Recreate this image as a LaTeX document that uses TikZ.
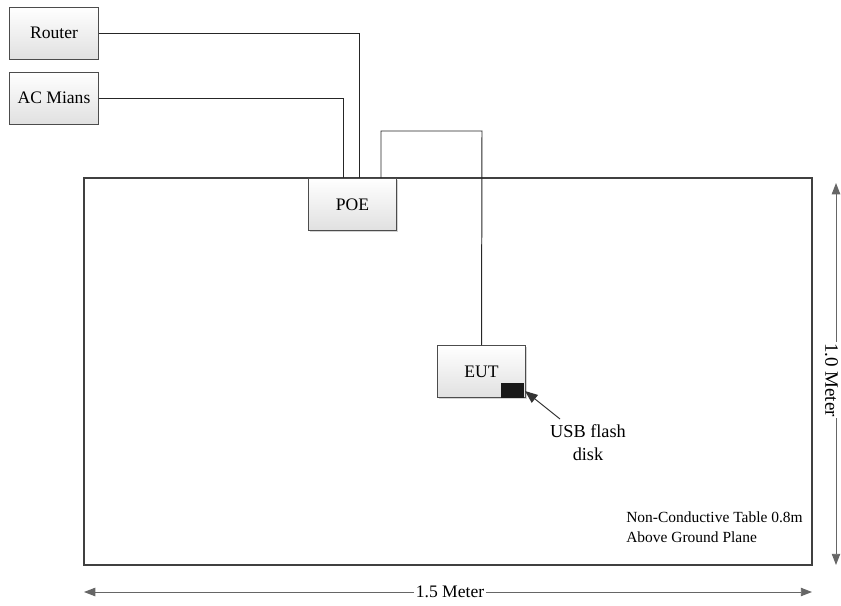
\documentclass[tikz,border=0pt]{standalone}
\usepackage{fontspec}
\setmainfont{Liberation Serif}
\usetikzlibrary{arrows.meta,shadows}

\tikzset{
  unit/.style={draw=black!70, line width=0.7pt, top color=white, bottom color=black!12,
    drop shadow={shadow xshift=1pt, shadow yshift=-1pt, opacity=0.35},
    minimum width=2.2cm, minimum height=1.3cm, inner sep=0pt, font=\fontsize{12.5}{15}\selectfont},
  cable/.style={black!85, line width=0.7pt},
  dim/.style={black!60, line width=0.7pt, >={Triangle[length=8pt,width=6pt]}},
}

\begin{document}
\begin{tikzpicture}[x=0.025cm, y=-0.025cm]
  \useasboundingbox (0,0) rectangle (841,605);
  % ------- the table -------
  \draw[black!75, line width=1.3pt] (84,178) rectangle (812,565);
  \node[anchor=north west, align=left, inner sep=0pt, font=\fontsize{11}{14.8}\selectfont] (note) at (626,511)
    {Non-Conductive Table 0.8m\\Above Ground Plane};
  % ------- boxes -------
  \node[unit] (router) at (54,33) {Router};
  \node[unit] (mains) at (54,98) {AC Mians};
  \node[unit] (poe) at (352.5,204.5) {POE};
  \node[unit] (eut) at (481.5,371.5) {EUT};
  \fill[black!90] (501,383) rectangle (524,398);
  \coordinate (usb) at (525,391);
  % ------- cables -------
  \draw[cable] (router.east) -| (359,178);
  \draw[cable] (mains.east) -| (343,178);
  \draw[cable] (381,178) |- (482,131) -- (eut.north);
  % ------- USB label -------
  \node[align=center, inner sep=0pt, font=\fontsize{13}{16.3}\selectfont] (usbtxt) at (588,443) {USB flash\\disk};
  \draw[black!80, line width=0.7pt, -{Triangle[length=9pt,width=7pt]}] (560,419) -- (usb);
  % ------- dimensions -------
  \draw[dim, <->] (84,592) -- (812,592);
  \node[fill=white, inner sep=1pt, font=\fontsize{12.5}{15}\selectfont] (len) at (450,592) {1.5 Meter};
  \draw[dim, <->] (836,183) -- (836,565);
  \node[fill=white, inner sep=0.5pt, font=\fontsize{13.5}{16}\selectfont, rotate=-90] (wid) at (831.5,380) {1.0 Meter};
\end{tikzpicture}
\end{document}
